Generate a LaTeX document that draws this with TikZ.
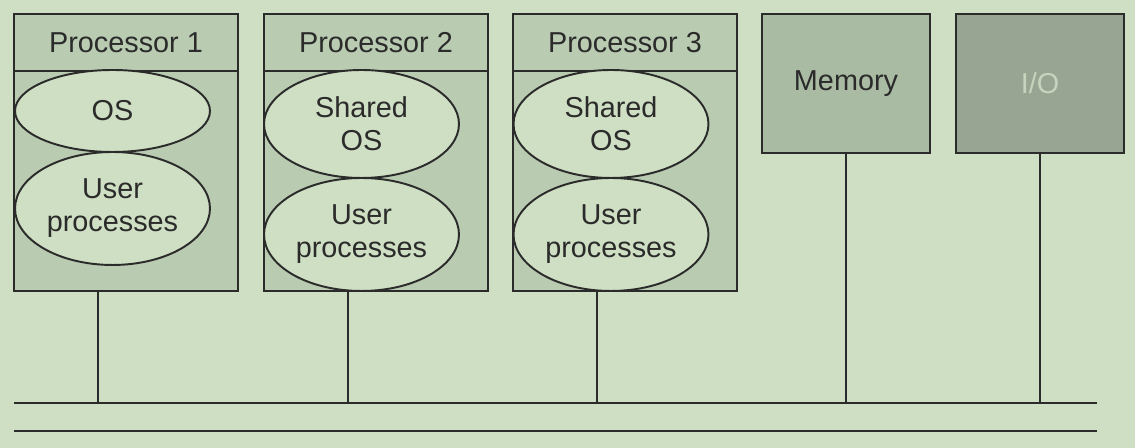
\documentclass[tikz,border=0pt]{standalone}
\usepackage{fontspec}
\setmainfont{Liberation Sans}
\usepackage{xcolor}
\usetikzlibrary{positioning,shapes.geometric,calc}

\definecolor{bgGreen}{HTML}{CFDFC3}
\definecolor{procFill}{HTML}{B9CBB1}
\definecolor{memFill}{HTML}{A9BBA3}
\definecolor{ioFill}{HTML}{97A592}
\definecolor{ioText}{HTML}{C6D4BE}
\definecolor{inkDark}{HTML}{2B2B2B}

\begin{document}
\begin{tikzpicture}[
    x=0.02cm, y=0.02cm,
    box/.style={draw=inkDark, line width=1.1pt, inner sep=0pt, font=\fontsize{16.4}{18.7}\selectfont, text=inkDark},
    proc/.style={box, fill=procFill, minimum width=4.48cm},
    blob/.style={ellipse, draw=inkDark, line width=1.1pt, fill=bgGreen, inner sep=0pt, align=center,
                 minimum width=3.9cm, font=\fontsize{16.4}{18.7}\selectfont, text=inkDark},
    wire/.style={draw=inkDark, line width=0.9pt},
    bus/.style={draw=inkDark, line width=1.4pt}
]
% background and picture size
\fill[bgGreen] (0,0) rectangle (1135,448);
\useasboundingbox (0,0) rectangle (1135,448);

% Processor 1: own OS
\node[proc, minimum height=1.14cm] (p1head) at (126,405.5) {Processor 1};
\node[proc, minimum height=4.4cm] (p1body) at (126,267) {};
\node[blob, minimum height=1.64cm] (p1os) at (112.5,337) {OS};
\node[blob, minimum height=2.26cm] (p1user) at (112.5,239.5) {User\\processes};

% Processor 2 and 3: shared OS
\node[proc, minimum height=1.14cm] (p2head) at (376,405.5) {Processor 2};
\node[proc, minimum height=4.4cm] (p2body) at (376,267) {};
\node[blob, minimum height=2.16cm] (p2os) at (361.5,324) {Shared\\OS};
\node[blob, minimum height=2.26cm] (p2user) at (361.5,213.5) {User\\processes};

\node[proc, minimum height=1.14cm] (p3head) at (625,405.5) {Processor 3};
\node[proc, minimum height=4.4cm] (p3body) at (625,267) {};
\node[blob, minimum height=2.16cm] (p3os) at (611,324) {Shared\\OS};
\node[blob, minimum height=2.26cm] (p3user) at (611,213.5) {User\\processes};

% Memory and I/O
\node[box, fill=memFill, minimum width=3.36cm, minimum height=2.78cm] (mem) at (846,364.5) {Memory};
\node[box, fill=ioFill, text=ioText, minimum width=3.36cm, minimum height=2.78cm] (io) at (1040,364.5) {I/O};

% bus
\coordinate (busAW) at (14,45);
\coordinate (busAE) at (1097,45);
\coordinate (busBW) at (14,17);
\coordinate (busBE) at (1097,17);
\draw[bus] (busAW) -- (busAE);
\draw[bus] (busBW) -- (busBE);

% taps onto the bus
\foreach \p in {p1,p2,p3}{
    \coordinate (\p tap) at ([xshift=-0.56cm]\p body.south);
    \draw[wire] (\p tap) -- (\p tap |- busAW);
}
\draw[wire] (mem.south) -- (mem.south |- busAW);
\draw[wire] (io.south) -- (io.south |- busAW);
\end{tikzpicture}
\end{document}
